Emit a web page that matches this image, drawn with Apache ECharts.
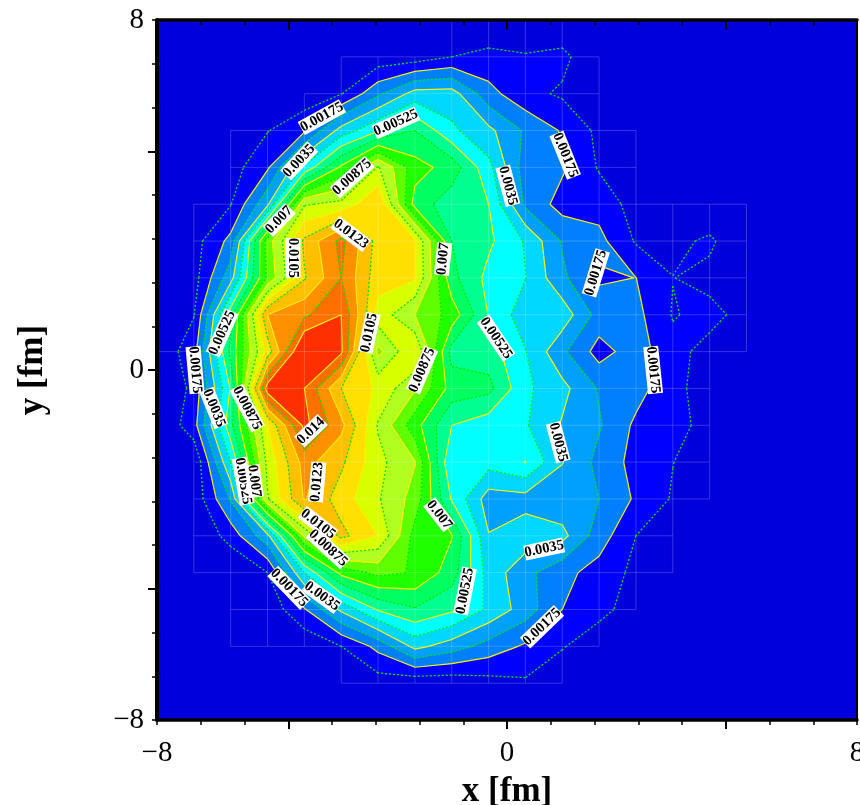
<!DOCTYPE html>
<html><head><meta charset="utf-8">
<style>html,body{margin:0;padding:0;background:#fff;overflow:hidden}#c{width:860px;height:805px}</style>
<script src="https://cdn.jsdelivr.net/npm/echarts@6/dist/echarts.min.js"></script>
</head><body><div id="c"></div>
<script>
// density on a 20x20 mesh from -8 to 8 fm, in units of the contour step
const contourStep = 0.000875;
const row00=[0,0,0,0,0,0,0,0,.05,.05,.05,.05,0,0,0,0,0,0,0,0];
const row01=[0,0,0,0,0,.05,.33,.44,1.0,1.3,1.1,1.3,.05,0,0,0,0,0,0,0];
const row02=[0,0,0,0,.3,.95,2.8,4.4,4.45,2.35,1.3,.85,.2,0,0,0,0,0,0,0];
const row03=[0,0,.2,.95,1.85,4.4,5.9,7.0,5.2,4.25,2.85,1.9,.75,.05,0,0,0,0,0,0];
const row04=[0,0,.55,1.85,5.2,8.2,11.1,8.4,7.6,5.3,2.5,2.15,.9,.05,0,0,0,0,0,0];
const row05=[0,.05,.95,3.8,10.9,11.3,12.9,7.6,6.4,6.0,2.8,1.6,1.6,.6,.03,.03,.03,0,0,0];
const row06=[0,.6,2.3,9.5,13.2,15.3,12.6,12.1,7.0,6.2,4.9,2.9,2.3,.9,.7,1.2,.03,0,0,0];
const row07=[0,.6,3.6,9.2,12.9,15.0,12.4,12.1,7.3,5.7,5.03,3.2,1.85,2.01,1.02,.7,.03,0,0,0];
const row08=[0,.95,6.6,14,14.8,16,11.6,10,8.6,5.95,4.4,4.6,2.6,2.3,.93,1.3,.65,0,0,0];
const row09=[.2,1.6,7.3,12.4,17.5,16.2,9.7,12.05,6.6,6.5,5.05,3.2,1.6,2.5,1.3,.68,.03,0,0,0];
const row10=[0,1.25,6.1,16.6,16,13,11.8,10.1,7.6,7.3,5.2,4.3,2.9,2.4,1.3,.5,0,0,0,0];
const row11=[0,1.6,6.7,12,16.3,14.3,10.9,8.4,6.0,5.4,5.1,3.9,3.1,1.8,1.3,.7,0,0,0,0];
const row12=[0,.1,5,11.3,14.4,13.2,11.3,10.05,5.02,5.4,6.03,4.05,2.7,1.65,1.02,.4,0,0,0,0];
const row13=[0,.3,3.1,10.9,14.1,12.5,11.1,9.6,5.9,3.5,3.6,3.3,3.0,1.85,.9,.3,0,0,0,0];
const row14=[0,.03,1.4,3.7,10.2,13.3,11.97,8.6,8.05,4.05,4.6,4.3,2.5,1.0,.3,0,0,0,0,0];
const row15=[0,.03,.03,1.0,5,8.3,9.3,8.9,7.5,4.6,3.3,2.3,1.6,.75,.1,0,0,0,0,0];
const row16=[0,0,.03,.3,1.9,4.2,6.1,6.9,6.2,4.8,3.5,2.0,1.4,.4,0,0,0,0,0,0];
const row17=[0,0,.03,.03,.2,1.0,2.3,4.3,3.5,2.6,1.85,1.1,.2,0,0,0,0,0,0,0];
const row18=[0,0,0,0,0,.03,.5,.25,.3,.6,.85,.03,0,0,0,0,0,0,0,0];
const row19=[0,0,0,0,0,0,0,0,0,0,0,0,0,0,0,0,0,0,0,0];
const meshRows=[row00,row01,row02,row03,row04,row05,row06,row07,row08,row09,row10,row11,row12,row13,row14,row15,row16,row17,row18,row19];

// band colours, from contour level 1 upward
const bandColors=['#0000ff','#0080ff','#00a0ff','#00d8ff','#00ffff','#00ff90','#00ff60','#20ff00','#60ff00','#b0ff20','#d8ff00','#ffe000','#ffc000','#ff9000','#ff7000','#ff3000'];

const labelTexts=['0.00175','0.00525','0.0035','0.00875','0.007','0.0123','0.0105','0.00525','0.0105','0.00175','0.00875','0.0035','0.00875','0.014','0.0123','0.00525','0.007','0.0105','0.00875','0.00175','0.0035','0.00175','0.0035','0.007','0.00175','0.00525','0.00175','0.0035','0.00525','0.0035','0.00175','0.007'];
const labelX=[-4.23,-2.54,-4.75,-3.54,-5.21,-3.57,-4.89,-6.51,-3.15,-7.13,-1.94,-6.70,-5.94,-4.48,-4.34,-6.03,-5.78,-4.32,-4.09,-4.98,-4.23,1.33,.02,-1.46,2.03,-.25,3.34,1.17,-.96,.85,.80,-1.55];
const labelY=[5.78,5.65,4.78,4.41,3.43,3.11,2.56,.85,.85,0,0,-.87,-.87,-1.39,-2.56,-2.54,-2.54,-3.52,-4.07,-4.98,-5.17,4.91,4.21,2.54,2.22,.73,0,-1.65,-5.05,-4.09,-5.87,-3.31];
const labelAngle=[29,24,47,42,46,-37,-90,66,78,-85,67,-68,-62,44,85,-80,-82,-38,-43,-46,-36,-68,-75,84,73,-56,-84,-75,79,12,44,-52];

const axisMin=-8, axisMax=8;
const minorTicks=[-8,-7,-6,-4,-3,-2,-1,1,2,3,4,6,7,8];
const majorTicks=[-5,0,5];
const tickLabels=[-8,0,8];

const N=meshRows.length;
const nodeX=i=>axisMin+i*(axisMax-axisMin)/(N-1);
const nodeY=j=>axisMax-j*(axisMax-axisMin)/(N-1);

const fills=[], lines=[], seams=[];
function ringOf(i,j){return [[nodeX(i),nodeY(j),meshRows[j][i]],[nodeX(i+1),nodeY(j),meshRows[j][i+1]],[nodeX(i+1),nodeY(j+1),meshRows[j+1][i+1]],[nodeX(i),nodeY(j+1),meshRows[j+1][i]]];}
function cross(a,b,l){const t=(l-a[2])/(b[2]-a[2]);return [a[0]+t*(b[0]-a[0]),a[1]+t*(b[1]-a[1])];}
for(let l=1;l<=bandColors.length;l++){
  for(let j=0;j<N-1;j++)for(let i=0;i<N-1;i++){
    const r=ringOf(i,j),poly=[];const seq=[];
    for(let k=0;k<4;k++){
      const a=r[k],b=r[(k+1)%4],ah=a[2]>=l,bh=b[2]>=l;
      if(ah)poly.push([a[0],a[1]]);
      if(ah!==bh){const p=cross(a,b,l);poly.push(p);seq.push({p,down:ah});}
    }
    if(poly.length>=3)fills.push({level:l,poly});
    for(let k=0;k<seq.length;k++){
      if(seq[k].down){const nx=seq[(k+1)%seq.length];lines.push({level:l,a:seq[k].p,b:nx.p});}
    }
  }
}
for(let j=0;j<N;j++)for(let i=0;i<N;i++){
  if(meshRows[j][i]<=0)continue;
  if(i<N-1&&meshRows[j][i+1]>0)seams.push([[nodeX(i),nodeY(j)],[nodeX(i+1),nodeY(j)]]);
  if(j<N-1&&meshRows[j+1][i]>0)seams.push([[nodeX(i),nodeY(j)],[nodeX(i),nodeY(j+1)]]);
}

const SERIF='Liberation Serif';
const fmt=v=>String(v).replace('-','\u2212');
function hiddenAxis(o){return Object.assign({type:'value',min:axisMin,max:axisMax,interval:1,splitLine:{show:false},axisLabel:{show:false},z:20},o);}
const chart=echarts.init(document.getElementById('c'),null,{renderer:'canvas'});
chart.setOption({
  animation:false,
  backgroundColor:'#fff',
  grid:{left:157,top:20,width:700,height:700,show:true,backgroundColor:'#0000dc',borderWidth:0,outerBoundsMode:'none',containLabel:false},
  xAxis:[
    hiddenAxis({position:'bottom',name:'x [fm]',nameLocation:'middle',nameGap:54,nameTextStyle:{fontFamily:SERIF,fontWeight:'bold',fontSize:35,color:'#000'},
      axisLine:{onZero:false,lineStyle:{color:'#000',width:3.5}},
      axisTick:{show:true,length:5,lineStyle:{color:'#000',width:1.5},customValues:minorTicks},
      axisLabel:{show:true,customValues:tickLabels,margin:19,fontFamily:SERIF,fontSize:29,color:'#000',formatter:fmt,showMinLabel:true,showMaxLabel:true,hideOverlap:false}}),
    hiddenAxis({position:'bottom',axisLine:{show:false,onZero:false},axisTick:{show:true,length:9,lineStyle:{color:'#000',width:2},customValues:majorTicks}}),
    hiddenAxis({position:'top',axisLine:{onZero:false,lineStyle:{color:'#000',width:3.5}},axisTick:{show:true,inside:true,length:5,lineStyle:{color:'#000',width:1.5},customValues:minorTicks}}),
    hiddenAxis({position:'top',axisLine:{show:false,onZero:false},axisTick:{show:true,inside:true,length:10,lineStyle:{color:'#000',width:2},customValues:majorTicks}})
  ],
  yAxis:[
    hiddenAxis({position:'left',name:'y [fm]',nameLocation:'middle',nameGap:107,nameTextStyle:{fontFamily:SERIF,fontWeight:'bold',fontSize:35,color:'#000'},
      axisLine:{onZero:false,lineStyle:{color:'#000',width:4}},
      axisTick:{show:true,length:5,lineStyle:{color:'#000',width:1.5},customValues:minorTicks},
      axisLabel:{show:true,customValues:tickLabels,margin:13,padding:[3,0,0,0],fontFamily:SERIF,fontSize:29,color:'#000',formatter:fmt,showMinLabel:true,showMaxLabel:true,hideOverlap:false}}),
    hiddenAxis({position:'left',axisLine:{show:false,onZero:false},axisTick:{show:true,length:9,lineStyle:{color:'#000',width:2},customValues:majorTicks}}),
    hiddenAxis({position:'right',axisLine:{onZero:false,lineStyle:{color:'#000',width:2}},axisTick:{show:false}})
  ],
  series:[
    {type:'custom',silent:true,z:2,coordinateSystem:'cartesian2d',progressive:0,data:fills.map((d,i)=>[i]),
      renderItem:(p,api)=>{const f=fills[p.dataIndex],c=bandColors[f.level-1];
        return {type:'polygon',shape:{points:f.poly.map(q=>api.coord(q))},style:{fill:c,stroke:c,lineWidth:.7}};}},
    {type:'custom',silent:true,z:3,progressive:0,data:seams.map((d,i)=>[i]),
      renderItem:(p,api)=>{const s=seams[p.dataIndex],a=api.coord(s[0]),b=api.coord(s[1]);
        return {type:'line',shape:{x1:a[0],y1:a[1],x2:b[0],y2:b[1]},style:{stroke:'rgba(255,255,255,.2)',lineWidth:1}};}},
    {type:'custom',silent:true,z:4,progressive:0,data:lines.map((d,i)=>[i]),
      renderItem:(p,api)=>{const s=lines[p.dataIndex],a=api.coord(s.a),b=api.coord(s.b),odd=s.level%2===1;
        return {type:'line',shape:{x1:a[0],y1:a[1],x2:b[0],y2:b[1]},style:odd?{stroke:'#00e800',lineWidth:1.3,lineDash:[2,2]}:{stroke:'#ffee00',lineWidth:1.2}};}},
    {type:'custom',silent:true,z:5,progressive:0,data:labelTexts.map((d,i)=>[labelX[i],labelY[i]]),
      renderItem:(p,api)=>{const i=p.dataIndex,a=api.coord([labelX[i],labelY[i]]);
        return {type:'text',x:a[0],y:a[1],rotation:labelAngle[i]*Math.PI/180,
          style:{text:labelTexts[i],fontFamily:SERIF,fontWeight:'bold',fontSize:14.5,fill:'#000',align:'center',verticalAlign:'middle',backgroundColor:'#fff',padding:[0,0]}};}}
  ]
});
</script></body></html>
